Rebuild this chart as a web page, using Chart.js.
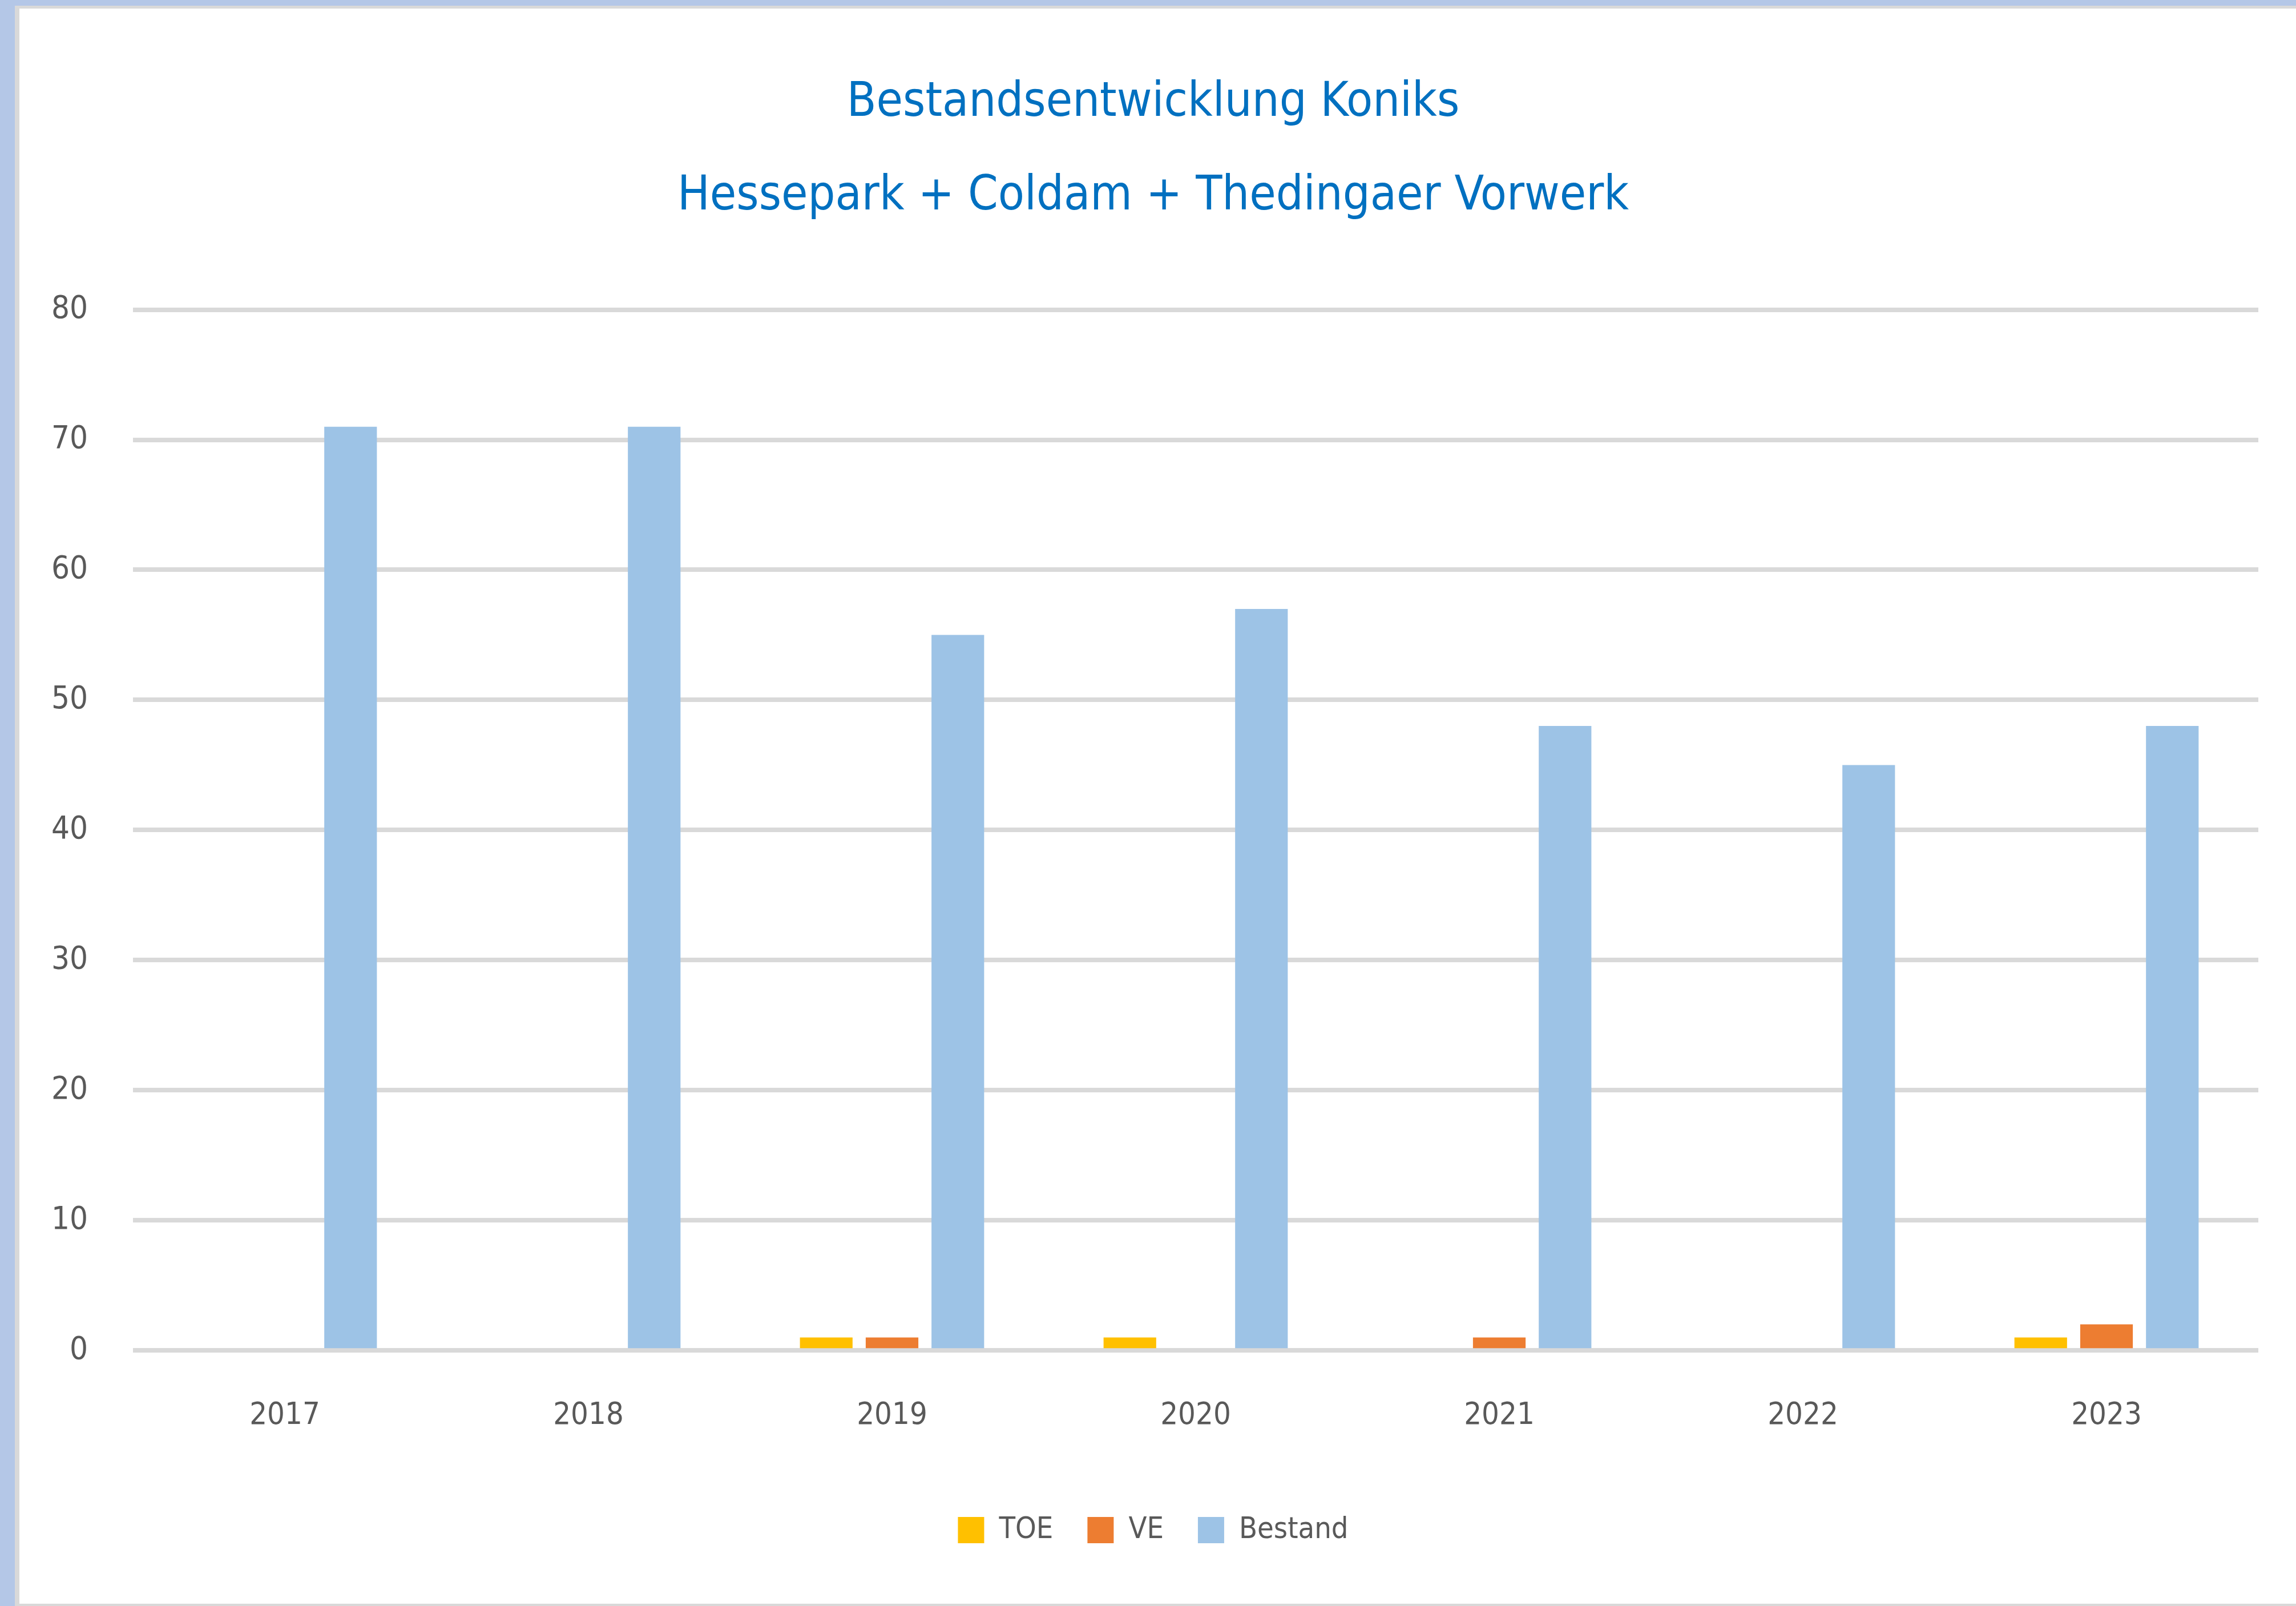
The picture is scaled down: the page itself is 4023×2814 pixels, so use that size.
<!DOCTYPE html>
<html>
<head>
  <title>Bestandsentwicklung Koniks</title>
  <script src="https://cdn.jsdelivr.net/npm/chart.js"></script>
  <style>
    html, body {
      margin: 0;
      padding: 0;
      width: 4023px;
      height: 2814px;
      overflow: hidden;
      background: #b4c7e7;
    }
    #frame {
      position: absolute;
      left: 26px;
      top: 10px;
      width: 3997px;
      height: 2804px;
      background: #fff;
      border-left: 8px solid #d9d9d9;
      border-top: 5px solid #d9d9d9;
      border-bottom: 4px solid #d9d9d9;
      box-sizing: border-box;
    }
    #chart {
      display: block;
    }
  </style>
</head>
<body>
  <div id="frame">
    <canvas id="chart" width="3989" height="2795"></canvas>
  </div>

  <script>
    // values
    const years = ['2017', '2018', '2019', '2020', '2021', '2022', '2023'];
    const toe = [0, 0, 1, 1, 0, 0, 1];
    const ve = [0, 0, 1, 0, 1, 0, 2];
    const bestand = [71, 71, 55, 57, 48, 45, 48];
    const titleLines = ['Bestandsentwicklung Koniks', 'Hessepark + Coldam + Thedingaer Vorwerk'];

    const narrow = "'DejaVu Sans Condensed', 'Liberation Sans Narrow', sans-serif";
    const grey = '#595959';

    const ctx = document.getElementById('chart').getContext('2d');
    new Chart(ctx, {
      type: 'bar',
      data: {
        labels: years,
        datasets: [
          { label: 'TOE', data: toe, backgroundColor: '#ffc000' },
          { label: 'VE', data: ve, backgroundColor: '#ed7d31' },
          { label: 'Bestand', data: bestand, backgroundColor: '#9dc3e6' }
        ]
      },
      options: {
        responsive: false,
        devicePixelRatio: 1,
        animation: false,
        categoryPercentage: 0.65,
        barPercentage: 0.8,
        layout: {
          // some left padding nudges title and legend right; y axis width makes up the rest
          padding: { left: 50, right: 66, top: 0, bottom: 93 }
        },
        plugins: {
          title: {
            display: true,
            text: titleLines,
            color: '#0070c0',
            font: { family: narrow, size: 84, weight: 'normal', lineHeight: 1.95 },
            padding: { top: 84, bottom: 116 }
          },
          legend: {
            position: 'bottom',
            labels: {
              color: grey,
              font: { family: narrow, size: 52 },
              boxWidth: 46,
              boxHeight: 46,
              padding: 60
            }
          },
          tooltip: { enabled: false }
        },
        scales: {
          x: {
            grid: { display: false, drawTicks: false },
            border: { display: false },
            ticks: {
              color: grey,
              font: { family: narrow, size: 54 },
              padding: 82
            }
          },
          y: {
            min: 0,
            max: 80,
            afterFit: (scale) => { scale.width = 149; },
            grid: {
              color: '#d9d9d9',
              lineWidth: 8,
              drawTicks: false
            },
            border: { display: false },
            ticks: {
              stepSize: 10,
              color: grey,
              font: { family: narrow, size: 56 },
              padding: 79
            }
          }
        }
      }
    });
  </script>
</body>
</html>
